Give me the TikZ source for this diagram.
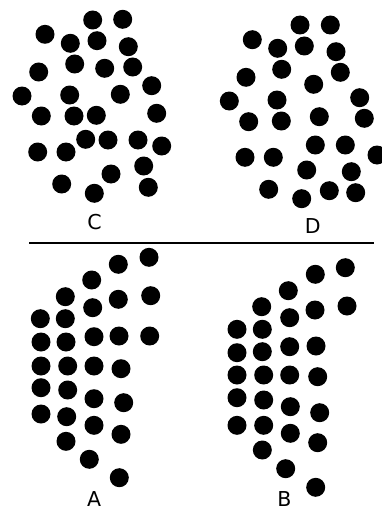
\documentclass[tikz,border=0pt]{standalone}
\usepackage{fontspec}
\setmainfont{DejaVu Sans}
\begin{document}
\begin{tikzpicture}[x=1pt,y=-1pt,
  dot/.style={fill=black},
  lbl/.style={font=\fontsize{20.5}{20.5}\selectfont, inner sep=0pt}]
\useasboundingbox (0,0) rectangle (382,511);
\clip (0,0) rectangle (382,511);
\def\r{9.5}
% C
\foreach \x/\y in {92.7/20,122.7/19.3,45/34.3,70.3/43.3,97/40.7,128.3/46.7,74.7/64,104.7/68.3,132.7/67,38.7/72,151.7/85.7,22/96,69.7/95,120.3/94.3,41.3/116,74/116,96.3/115.3,156.7/113.3,85.7/139.3,108/140,138/140,161.7/146,37.7/152,66/152,111/174,143.7/166,61.7/184,94.3/193.3,148.3/187.3}
  \fill[dot] (\x,\y) circle (\r);
% D
\foreach \x/\y in {300/25,330.3/25,252.3/39.7,277.7/48.3,304.3/46,336/51.7,281.7/69.3,340.3/72.3,246/77.3,313.7/84.3,229.3/101,277/100,359.7/97.7,248.7/121.7,281.3/121,319.3/116.7,364.3/118.3,315.3/145,345.3/145,377/155,245/157.3,273.3/157.3,306.7/170,351.3/171.7,268.7/189.3,301.7/198.7,329.3/190.7,355.7/192.7}
  \fill[dot] (\x,\y) circle (\r);
% A
\foreach \x/\y in {149/257.3,118.3/264.3,91.7/280,65.3/296.7,118.3/299.3,150.7/295.7,92.7/307.7,40.3/318.7,65.3/318.7,41/342,66/342,94/336.7,119/336,149.7/336,41/366,67.7/366,94/366,121/368.7,41/387.7,67.7/390,94/398.7,123.7/402.7,41/414,66.7/416.7,94/425.3,121/434.3,66/441.3,89.3/459.3,119.3/477.7}
  \fill[dot] (\x,\y) circle (\r);
% B
\foreach \x/\y in {345.3/267.7,315.3/274.3,288.3/290.7,261.7/306.7,315/310,347/306,289.7/317.7,237/329.3,262.3/329.3,237/352.7,262.3/351.7,289.7/346.7,316/346,237/375,263.7/375,289.7/375,317.7/376.7,237/397.7,263.7/400,290.3/406.7,319.7/412.7,237/425.3,263.7/425.3,290.3/433.3,317.7/442.7,262.3/450,285.7/468.7,315.7/487.3}
  \fill[dot] (\x,\y) circle (\r);
\coordinate (l1) at (29,243);
\coordinate (l2) at (374,243);
\draw[line width=1.8pt] (l1) -- (l2);
\node[lbl] (C) at (94.5,222.5) {C};
\node[lbl] (D) at (312.8,226) {D};
\node[lbl] (A) at (94.2,499) {A};
\node[lbl] (B) at (284.5,499) {B};
\end{tikzpicture}
\end{document}
